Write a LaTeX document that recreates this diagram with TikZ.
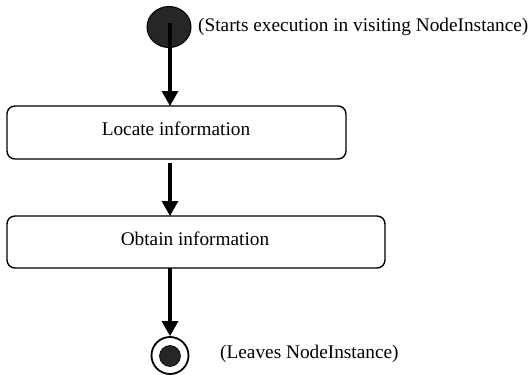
\documentclass[tikz,border=0pt]{standalone}
\usepackage{fontspec}
\setmainfont{Liberation Serif}
\usetikzlibrary{arrows.meta,shapes.geometric}
\begin{document}
\begin{tikzpicture}[x=1pt,y=-1pt,
  actbox/.style={draw, line width=1.4pt, rounded corners=8pt, fill=white},
  flow/.style={line width=3.1pt, -{Triangle[length=15pt,width=16pt]}},
  lbl/.style={font=\fontsize{19.3}{22}\selectfont, inner sep=0pt}]
\useasboundingbox (0,0) rectangle (531,375);
\node[ellipse, draw, line width=1pt, fill=black!85, minimum width=44pt, minimum height=41pt, inner sep=0pt] (start) at (169,27) {};
\node[lbl, anchor=west] (starttxt) at (198,27) {(Starts execution in visiting NodeInstance)};
\draw[actbox] (7,106) rectangle (346,159);
\node[lbl] (locate) at (176,129) {Locate information};
\coordinate (b1top) at (170,106);
\coordinate (b1bot) at (170,163);
\draw[actbox] (7,216) rectangle (385,268);
\node[lbl] (obtain) at (195,239) {Obtain information};
\coordinate (b2top) at (170,216);
\coordinate (b2bot) at (170,268);
\coordinate (s0) at (170,23);
\node[circle, draw, line width=1.8pt, minimum size=37pt, inner sep=0pt] (endo) at (170,355.5) {};
\node[circle, fill=black!85, draw=black, line width=0.6pt, minimum size=21pt, inner sep=0pt] (endi) at (170,356) {};
\node[lbl, anchor=west] (endtxt) at (220,354) {(Leaves NodeInstance)};
\draw[flow] (s0) -- (b1top);
\draw[flow] (b1bot) -- (b2top);
\draw[flow] (b2bot) -- (endo.north);
\end{tikzpicture}
\end{document}
